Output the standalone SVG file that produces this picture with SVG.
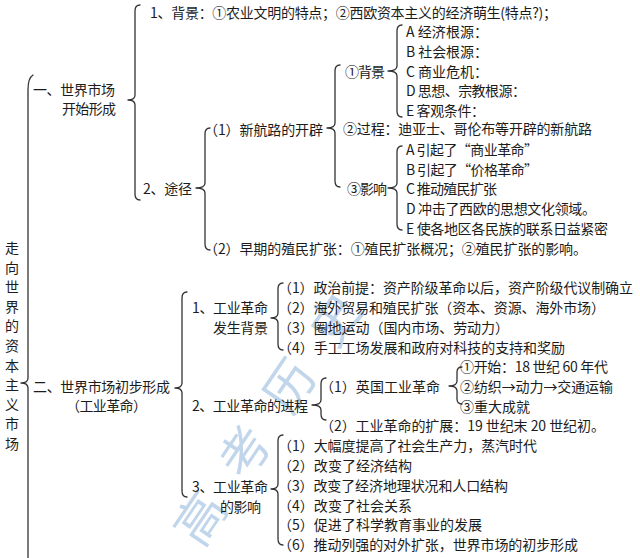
<svg xmlns="http://www.w3.org/2000/svg" width="640" height="558" viewBox="0 0 640 558">
<style>
.t{font-family:"Noto Sans CJK SC","Liberation Sans",sans-serif;font-size:14px;fill:#1c1c1c;dominant-baseline:central}
.v{text-anchor:middle}
.b{fill:none;stroke:#333;stroke-width:1.3;stroke-linecap:round;stroke-linejoin:round}
.w{font-family:"Noto Sans CJK SC",sans-serif;font-size:50px;fill:#8fb4dc;opacity:0.55;dominant-baseline:central}
</style>
<rect width="640" height="558" fill="#fff"/>
<g id="watermark"><text class="w" transform="translate(183,537) rotate(-56)" textLength="290">高考历史</text></g>
<g id="connectors">
<path class="b" d="M33 75 Q28 78 28 90 L28 378 Q28 383 21 383 Q28 383 28 388 L28 565"/>
<path class="b" d="M140 5 Q135 5 135 11 L135 95 Q135 100 128 100 Q135 100 135 105 L135 194 Q135 200 140 200"/>
<path class="b" d="M210 128 Q205 128 205 134 L205 183 Q205 188 196 188 Q205 188 205 193 L205 244 Q205 250 210 250"/>
<path class="b" d="M340 65 Q335 65 335 71 L335 123 Q335 128 327 128 Q335 128 335 133 L335 181 Q335 187 340 187"/>
<path class="b" d="M402 25 Q397 25 397 31 L397 66 Q397 71 388 71 Q397 71 397 76 L397 111 Q397 117 402 117"/>
<path class="b" d="M402 146 Q397 146 397 152 L397 183 Q397 188 388 188 Q397 188 397 193 L397 224 Q397 230 402 230"/>
<path class="b" d="M187 292 Q182 292 182 298 L182 383 Q182 388 175 388 Q182 388 182 393 L182 491 Q182 497 187 497"/>
<path class="b" d="M283 283 Q278 283 278 289 L278 313 Q278 318 271 318 Q278 318 278 323 L278 344 Q278 350 283 350"/>
<path class="b" d="M326 378 Q321 378 321 384 L321 400 Q321 405 312 405 Q321 405 321 410 L321 414 Q321 420 326 420"/>
<path class="b" d="M462 367 Q457 367 457 372 L457 381 Q457 386 449 386 Q457 386 457 391 L457 399 Q457 404 462 404"/>
<path class="b" d="M283 435 Q278 435 278 441 L278 484 Q278 489 271 489 Q278 489 278 494 L278 539 Q278 545 283 545"/>
</g>
<g id="title">
<text class="t v" x="12" y="247">走</text><text class="t v" x="12" y="266.6">向</text><text class="t v" x="12" y="286.2">世</text><text class="t v" x="12" y="305.8">界</text><text class="t v" x="12" y="325.4">的</text><text class="t v" x="12" y="345">资</text><text class="t v" x="12" y="364.6">本</text><text class="t v" x="12" y="384.2">主</text><text class="t v" x="12" y="403.8">义</text><text class="t v" x="12" y="423.4">市</text><text class="t v" x="12" y="443">场</text>
</g>
<g id="n1">
<text class="t" x="33" y="89" textLength="82">一、世界市场</text>
<text class="t" x="62" y="108" textLength="54">开始形成</text>
</g>
<g id="n1-1"><text class="t" x="150" y="12" textLength="407">1、背景：①农业文明的特点；②西欧资本主义的经济萌生(特点?)；</text></g>
<g id="n1-2"><text class="t" x="143" y="188" textLength="49">2、途径</text></g>
<g id="n1-2-1"><text class="t" x="204" y="129" textLength="119">（1）新航路的开辟</text></g>
<g id="n1-2-2"><text class="t" x="204" y="248" textLength="383">（2）早期的殖民扩张：①殖民扩张概况；②殖民扩张的影响。</text></g>
<g id="n-bg"><text class="t" x="345" y="71" textLength="40">①背景</text></g>
<g id="n-bg-items">
<text class="t" x="406" y="31" textLength="82">A 经济根源：</text>
<text class="t" x="406" y="51" textLength="82">B 社会根源：</text>
<text class="t" x="406" y="71" textLength="82">C 商业危机：</text>
<text class="t" x="406" y="90" textLength="120">D 思想、宗教根源：</text>
<text class="t" x="406" y="109.5" textLength="79">E 客观条件：</text>
</g>
<g id="n-gc"><text class="t" x="343" y="128" textLength="249">②过程：迪亚士、哥伦布等开辟的新航路</text></g>
<g id="n-yx"><text class="t" x="347" y="188" textLength="40">③影响</text></g>
<g id="n-yx-items">
<text class="t" x="406" y="149" textLength="132">A 引起了“商业革命”</text>
<text class="t" x="406" y="168.5" textLength="132">B 引起了“价格革命”</text>
<text class="t" x="406" y="188" textLength="91">C 推动殖民扩张</text>
<text class="t" x="406" y="208" textLength="190">D 冲击了西欧的思想文化领域。</text>
<text class="t" x="406" y="227.5" textLength="202">E 使各地区各民族的联系日益紧密</text>
</g>
<g id="n2">
<text class="t" x="33" y="386" textLength="137">二、世界市场初步形成</text>
<text class="t" x="66" y="405" textLength="81">（工业革命）</text>
</g>
<g id="n2-1">
<text class="t" x="192" y="307" textLength="76">1、工业革命</text>
<text class="t" x="213" y="327" textLength="55">发生背景</text>
</g>
<g id="n2-1-items">
<text class="t" x="278" y="287" textLength="355">（1）政治前提：资产阶级革命以后，资产阶级代议制确立</text>
<text class="t" x="278" y="307" textLength="327">（2）海外贸易和殖民扩张（资本、资源、海外市场）</text>
<text class="t" x="278" y="327" textLength="231">（3）圈地运动（国内市场、劳动力）</text>
<text class="t" x="278" y="346.5" textLength="287">（4）手工工场发展和政府对科技的支持和奖励</text>
</g>
<g id="n2-2"><text class="t" x="192" y="405" textLength="116">2、工业革命的进程</text></g>
<g id="n2-2-1"><text class="t" x="320" y="385.5" textLength="120">（1）英国工业革命</text></g>
<g id="n2-2-1-items">
<text class="t" x="460" y="366" textLength="148">①开始：18 世纪 60 年代</text>
<text class="t" x="460" y="386" textLength="153">②纺织→动力→交通运输</text>
<text class="t" x="460" y="405.5" textLength="70">③重大成就</text>
</g>
<g id="n2-2-2"><text class="t" x="320" y="425" textLength="285">（2）工业革命的扩展：19 世纪末 20 世纪初。</text></g>
<g id="n2-3">
<text class="t" x="192" y="486" textLength="76">3、工业革命</text>
<text class="t" x="220" y="505.5" textLength="41">的影响</text>
</g>
<g id="n2-3-items">
<text class="t" x="278" y="445" textLength="259">（1）大幅度提高了社会生产力，蒸汽时代</text>
<text class="t" x="278" y="465" textLength="134">（2）改变了经济结构</text>
<text class="t" x="278" y="485" textLength="230">（3）改变了经济地理状况和人口结构</text>
<text class="t" x="278" y="504.5" textLength="134">（4）改变了社会关系</text>
<text class="t" x="278" y="524" textLength="204">（5）促进了科学教育事业的发展</text>
<text class="t" x="278" y="544" textLength="300">（6）推动列强的对外扩张，世界市场的初步形成</text>
</g>
</svg>
